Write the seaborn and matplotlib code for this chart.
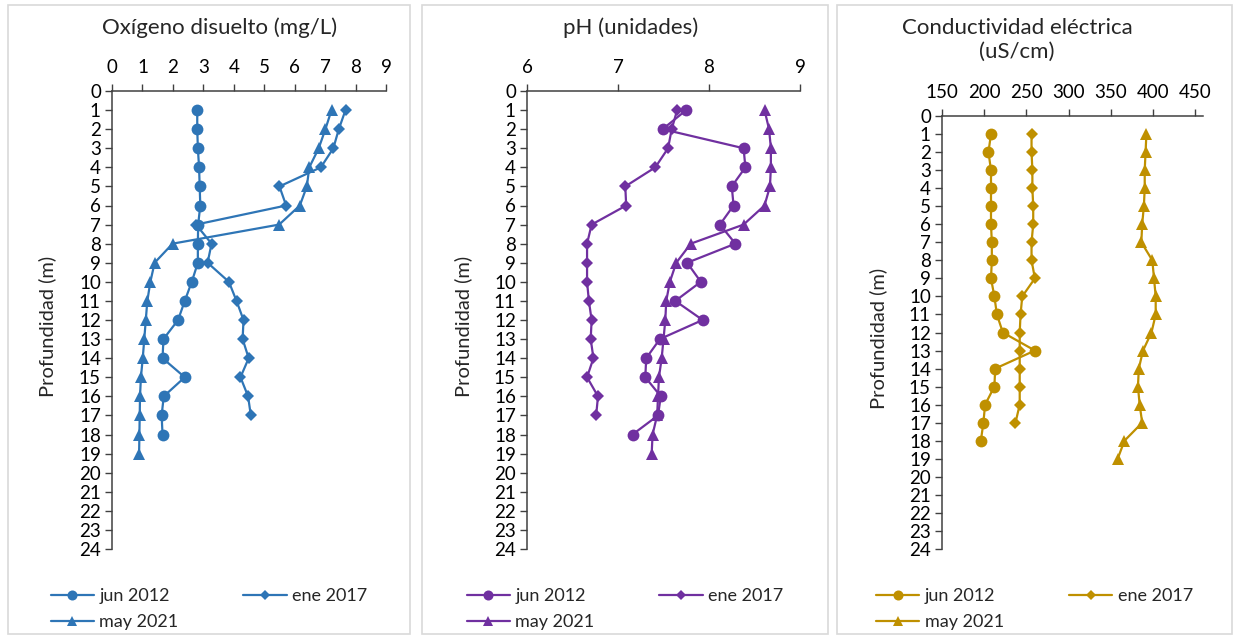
import matplotlib
matplotlib.use("Agg")
import matplotlib.pyplot as plt
import seaborn as sns
from matplotlib.patches import Rectangle

# depths (m)
depth_jun2012 = [1, 2, 3, 4, 5, 6, 7, 8, 9, 10, 11, 12, 13, 14, 15, 16, 17, 18]
depth_ene2017 = [1, 2, 3, 4, 5, 6, 7, 8, 9, 10, 11, 12, 13, 14, 15, 16, 17]
depth_may2021 = [1, 2, 3, 4, 5, 6, 7, 8, 9, 10, 11, 12, 13, 14, 15, 16, 17, 18, 19]

# Oxigeno disuelto (mg/L)
od_jun2012 = [2.80, 2.80, 2.82, 2.86, 2.88, 2.90, 2.83, 2.82, 2.82, 2.62, 2.39, 2.17,
              1.69, 1.66, 2.39, 1.70, 1.63, 1.66]
od_ene2017 = [7.67, 7.45, 7.27, 6.86, 5.50, 5.72, 2.76, 3.27, 3.14, 3.84, 4.09, 4.32,
              4.29, 4.49, 4.22, 4.47, 4.56]
od_may2021 = [7.21, 7.01, 6.79, 6.48, 6.40, 6.17, 5.49, 1.99, 1.40, 1.26, 1.16, 1.11,
              1.06, 1.01, 0.95, 0.92, 0.91, 0.90, 0.89]

# pH (unidades)
ph_jun2012 = [7.75, 7.49, 8.38, 8.40, 8.25, 8.27, 8.12, 8.29, 7.76, 7.91, 7.63, 7.93,
              7.46, 7.31, 7.30, 7.47, 7.44, 7.16]
ph_ene2017 = [7.65, 7.59, 7.55, 7.41, 7.08, 7.09, 6.71, 6.66, 6.66, 6.66, 6.68, 6.71,
              6.70, 6.73, 6.66, 6.78, 6.76]
ph_may2021 = [8.61, 8.66, 8.68, 8.68, 8.67, 8.61, 8.38, 7.80, 7.64, 7.57, 7.53, 7.52,
              7.50, 7.48, 7.45, 7.44, 7.43, 7.38, 7.37]

# Conductividad electrica (uS/cm)
ce_jun2012 = [208, 205, 208, 208, 208, 208, 209, 209, 208, 212, 215, 222,
              260, 213, 212, 201, 199, 196]
ce_ene2017 = [256, 256, 257, 257, 258, 258, 256, 256, 260, 245, 243, 242,
              242, 242, 242, 242, 237]
ce_may2021 = [392, 391, 390, 390, 389, 387, 386, 399, 401, 403, 403, 398,
              388, 383, 382, 384, 387, 366, 358]

series_labels = ["jun 2012", "ene 2017", "may 2021"]
markers = ["o", "D", "^"]
marker_sizes = [8.5, 6.5, 8.5]

sns.set_theme(style="ticks")
plt.rcParams["font.family"] = ["Lato", "DejaVu Sans"]

W, H = 1236, 639
fig = plt.figure(figsize=(W / 100, H / 100), dpi=100)
fig.patch.set_facecolor("white")

def px_axes(left, top, right, bottom):
    return fig.add_axes([left / W, 1 - bottom / H, (right - left) / W, (bottom - top) / H])

panels = [
    dict(box=(8, 5, 410, 634), ax=(112, 91, 386, 549),
         data=[od_jun2012, od_ene2017, od_may2021], color="#2E75B6",
         xlim=(0, 9), xticks=list(range(0, 10)),
         title="Oxígeno disuelto (mg/L)", title_xy=(220, 28), ylabel_x=47),
    dict(box=(422, 5, 828, 634), ax=(527, 91, 800, 549),
         data=[ph_jun2012, ph_ene2017, ph_may2021], color="#7030A0",
         xlim=(6, 9), xticks=[6, 7, 8, 9],
         title="pH (unidades)", title_xy=(631, 28), ylabel_x=463),
    dict(box=(837, 5, 1232, 634), ax=(942, 116, 1203, 549),
         data=[ce_jun2012, ce_ene2017, ce_may2021], color="#BF9000",
         xlim=(150, 459), xticks=[150, 200, 250, 300, 350, 400, 450],
         title="Conductividad eléctrica\n(uS/cm)", title_xy=(1017, 40), ylabel_x=878),
]

depths = [depth_jun2012, depth_ene2017, depth_may2021]

for p in panels:
    bx0, by0, bx1, by1 = p["box"]
    fig.patches.append(Rectangle((bx0 / W, 1 - by1 / H), (bx1 - bx0) / W, (by1 - by0) / H,
                                 transform=fig.transFigure, fill=False,
                                 edgecolor="#D9D9D9", linewidth=1.2))
    ax = px_axes(*p["ax"])
    for vals, dep, lab, mk, ms in zip(p["data"], depths, series_labels, markers, marker_sizes):
        sns.lineplot(x=vals, y=dep, sort=False, estimator=None, ax=ax, color=p["color"],
                     marker=mk, markersize=ms, markeredgewidth=0, linewidth=1.6, label=lab)
    ax.set_xlim(*p["xlim"])
    ax.set_ylim(24, 0)
    ax.set_xticks(p["xticks"])
    ax.set_yticks(list(range(0, 25)))
    ax.xaxis.tick_top()
    ax.tick_params(axis="x", top=True, bottom=False, labeltop=True, labelbottom=False,
                   direction="out", length=5, width=1, labelsize=13.5, colors="#404040",
                   labelcolor="black", pad=6)
    ax.tick_params(axis="y", left=True, direction="out", length=5, width=1,
                   labelsize=13.5, colors="#404040", labelcolor="black", pad=3)
    for s in ["right", "bottom"]:
        ax.spines[s].set_visible(False)
    for s in ["left", "top"]:
        ax.spines[s].set_color("#404040")
        ax.spines[s].set_linewidth(1.1)
    ax.set_xlabel("")
    ax.set_ylabel("")
    fig.text(p["ylabel_x"] / W, 1 - ((p["ax"][1] + p["ax"][3]) / 2 + 6) / H, "Profundidad (m)",
             rotation=90, ha="center", va="center", fontsize=14.5)
    fig.text(p["title_xy"][0] / W, 1 - p["title_xy"][1] / H, p["title"], ha="center",
             va="center", fontsize=16, linespacing=1.25)
    handles, labels = ax.get_legend_handles_labels()
    ax.get_legend().remove()
    # column-wise fill: put jun/may in first column, ene in second
    order = [0, 2, 1]
    fig.legend([handles[i] for i in order], [labels[i] for i in order], loc="upper center",
               bbox_to_anchor=((bx0 + bx1) / 2 / W, 1 - 572 / H), ncol=2, frameon=False,
               fontsize=13, handlelength=2.4, handletextpad=0.3, columnspacing=3.6,
               labelspacing=0.55, markerscale=0.85)

fig.savefig("out.png", dpi=100, facecolor="white")
